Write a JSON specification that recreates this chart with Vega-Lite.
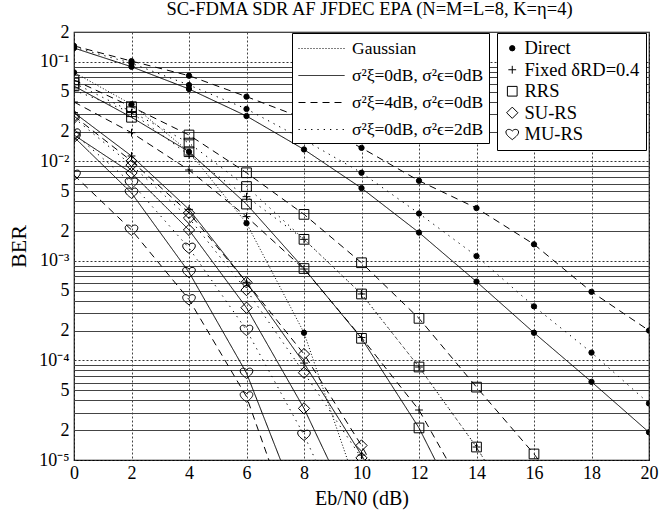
{
  "$schema": "https://vega.github.io/schema/vega-lite/v6.json",
  "width": 575,
  "height": 428,
  "autosize": {"type": "none"},
  "padding": {"left": 74, "top": 32, "right": 10, "bottom": 53},
  "config": {
    "font": "Liberation Serif",
    "view": {"stroke": "black", "strokeWidth": 1.2},
    "title": {"font": "Liberation Serif", "fontSize": 18.5, "fontWeight": "normal", "color": "black"}
  },
  "title": {"text": "SC-FDMA SDR AF JFDEC EPA (N=M=L=8, K=η=4)", "offset": 5, "dx": 8},
  "data": {"values": [
    {"scheme":"Direct","noise":"G","x":0,"ber":0.0786},{"scheme":"Direct","noise":"G","x":2,"ber":0.0375},{"scheme":"Direct","noise":"G","x":4,"ber":0.0125},{"scheme":"Direct","noise":"G","x":6,"ber":0.0024},{"scheme":"Direct","noise":"G","x":8,"ber":0.00019},{"scheme":"Direct","noise":"G","x":10,"ber":0.0000039},
    {"scheme":"Direct","noise":"A","x":0,"ber":0.138},{"scheme":"Direct","noise":"A","x":2,"ber":0.0895},{"scheme":"Direct","noise":"A","x":4,"ber":0.0535},{"scheme":"Direct","noise":"A","x":6,"ber":0.0286},{"scheme":"Direct","noise":"A","x":8,"ber":0.0132},{"scheme":"Direct","noise":"A","x":10,"ber":0.0054},{"scheme":"Direct","noise":"A","x":12,"ber":0.00193},{"scheme":"Direct","noise":"A","x":14,"ber":0.00062},{"scheme":"Direct","noise":"A","x":16,"ber":0.00019},{"scheme":"Direct","noise":"A","x":18,"ber":0.000061},{"scheme":"Direct","noise":"A","x":20,"ber":0.000019},
    {"scheme":"Direct","noise":"B","x":0,"ber":0.145},{"scheme":"Direct","noise":"B","x":2,"ber":0.102},{"scheme":"Direct","noise":"B","x":4,"ber":0.0728},{"scheme":"Direct","noise":"B","x":6,"ber":0.0448},{"scheme":"Direct","noise":"B","x":8,"ber":0.027},{"scheme":"Direct","noise":"B","x":10,"ber":0.0137},{"scheme":"Direct","noise":"B","x":12,"ber":0.0064},{"scheme":"Direct","noise":"B","x":14,"ber":0.0034},{"scheme":"Direct","noise":"B","x":16,"ber":0.00147},{"scheme":"Direct","noise":"B","x":18,"ber":0.00049},{"scheme":"Direct","noise":"B","x":20,"ber":0.0002},
    {"scheme":"Direct","noise":"C","x":0,"ber":0.141},{"scheme":"Direct","noise":"C","x":2,"ber":0.097},{"scheme":"Direct","noise":"C","x":4,"ber":0.0586},{"scheme":"Direct","noise":"C","x":6,"ber":0.0337},{"scheme":"Direct","noise":"C","x":8,"ber":0.0165},{"scheme":"Direct","noise":"C","x":10,"ber":0.0077},{"scheme":"Direct","noise":"C","x":12,"ber":0.003},{"scheme":"Direct","noise":"C","x":14,"ber":0.00112},{"scheme":"Direct","noise":"C","x":16,"ber":0.00035},{"scheme":"Direct","noise":"C","x":18,"ber":0.00012},{"scheme":"Direct","noise":"C","x":20,"ber":0.000037},
    {"scheme":"Fixed","noise":"A","x":0,"ber":0.031},{"scheme":"Fixed","noise":"A","x":2,"ber":0.01135},{"scheme":"Fixed","noise":"A","x":4,"ber":0.0033},{"scheme":"Fixed","noise":"A","x":6,"ber":0.00061},{"scheme":"Fixed","noise":"A","x":8,"ber":0.0000942},{"scheme":"Fixed","noise":"A","x":10,"ber":0.0000112},{"scheme":"Fixed","noise":"A","x":12,"ber":0.0000011},
    {"scheme":"Fixed","noise":"B","x":0,"ber":0.0396},{"scheme":"Fixed","noise":"B","x":2,"ber":0.01946},{"scheme":"Fixed","noise":"B","x":4,"ber":0.0082},{"scheme":"Fixed","noise":"B","x":6,"ber":0.00279},{"scheme":"Fixed","noise":"B","x":8,"ber":0.00083},{"scheme":"Fixed","noise":"B","x":10,"ber":0.00017},{"scheme":"Fixed","noise":"B","x":12,"ber":0.0000318},{"scheme":"Fixed","noise":"B","x":14,"ber":0.000003},
    {"scheme":"Fixed","noise":"C","x":0,"ber":0.052},{"scheme":"Fixed","noise":"C","x":2,"ber":0.031},{"scheme":"Fixed","noise":"C","x":4,"ber":0.0116},{"scheme":"Fixed","noise":"C","x":6,"ber":0.00443},{"scheme":"Fixed","noise":"C","x":8,"ber":0.00165},{"scheme":"Fixed","noise":"C","x":10,"ber":0.000466},{"scheme":"Fixed","noise":"C","x":12,"ber":0.000086},{"scheme":"Fixed","noise":"C","x":14,"ber":0.0000135},{"scheme":"Fixed","noise":"C","x":16,"ber":0.0000015},
    {"scheme":"RRS","noise":"B","x":0,"ber":0.0659},{"scheme":"RRS","noise":"B","x":2,"ber":0.0355},{"scheme":"RRS","noise":"B","x":4,"ber":0.01845},{"scheme":"RRS","noise":"B","x":6,"ber":0.0077},{"scheme":"RRS","noise":"B","x":8,"ber":0.00294},{"scheme":"RRS","noise":"B","x":10,"ber":0.00096},{"scheme":"RRS","noise":"B","x":12,"ber":0.000265},{"scheme":"RRS","noise":"B","x":14,"ber":0.000054},{"scheme":"RRS","noise":"B","x":16,"ber":0.0000115},{"scheme":"RRS","noise":"B","x":18,"ber":0.000002},
    {"scheme":"RRS","noise":"C","x":0,"ber":0.0614},{"scheme":"RRS","noise":"C","x":2,"ber":0.0316},{"scheme":"RRS","noise":"C","x":4,"ber":0.0153},{"scheme":"RRS","noise":"C","x":6,"ber":0.0056},{"scheme":"RRS","noise":"C","x":8,"ber":0.00165},{"scheme":"RRS","noise":"C","x":10,"ber":0.000466},{"scheme":"RRS","noise":"C","x":12,"ber":0.000086},{"scheme":"RRS","noise":"C","x":14,"ber":0.0000135},{"scheme":"RRS","noise":"C","x":16,"ber":0.0000015},
    {"scheme":"RRS","noise":"A","x":0,"ber":0.0573},{"scheme":"RRS","noise":"A","x":2,"ber":0.0278},{"scheme":"RRS","noise":"A","x":4,"ber":0.01253},{"scheme":"RRS","noise":"A","x":6,"ber":0.00373},{"scheme":"RRS","noise":"A","x":8,"ber":0.00084},{"scheme":"RRS","noise":"A","x":10,"ber":0.000167},{"scheme":"RRS","noise":"A","x":12,"ber":0.000021},{"scheme":"RRS","noise":"A","x":14,"ber":0.0000015},
    {"scheme":"SU-RS","noise":"A","x":0,"ber":0.01845},{"scheme":"SU-RS","noise":"A","x":2,"ber":0.00766},{"scheme":"SU-RS","noise":"A","x":4,"ber":0.00205},{"scheme":"SU-RS","noise":"A","x":6,"ber":0.000339},{"scheme":"SU-RS","noise":"A","x":8,"ber":0.000033},{"scheme":"SU-RS","noise":"A","x":10,"ber":0.000002},
    {"scheme":"SU-RS","noise":"B","x":0,"ber":0.0286},{"scheme":"SU-RS","noise":"B","x":2,"ber":0.0101},{"scheme":"SU-RS","noise":"B","x":4,"ber":0.00304},{"scheme":"SU-RS","noise":"B","x":6,"ber":0.00061},{"scheme":"SU-RS","noise":"B","x":8,"ber":0.000116},{"scheme":"SU-RS","noise":"B","x":10,"ber":0.000014},{"scheme":"SU-RS","noise":"B","x":12,"ber":0.0000012},
    {"scheme":"SU-RS","noise":"C","x":0,"ber":0.0274},{"scheme":"SU-RS","noise":"C","x":2,"ber":0.0092},{"scheme":"SU-RS","noise":"C","x":4,"ber":0.0027},{"scheme":"SU-RS","noise":"C","x":6,"ber":0.00051},{"scheme":"SU-RS","noise":"C","x":8,"ber":0.0000753},{"scheme":"SU-RS","noise":"C","x":10,"ber":0.0000105},{"scheme":"SU-RS","noise":"C","x":12,"ber":0.000001},
    {"scheme":"MU-RS","noise":"A","x":0,"ber":0.0176},{"scheme":"MU-RS","noise":"A","x":2,"ber":0.00482},{"scheme":"MU-RS","noise":"A","x":4,"ber":0.00077},{"scheme":"MU-RS","noise":"A","x":6,"ber":0.0000748},{"scheme":"MU-RS","noise":"A","x":8,"ber":0.0000025},
    {"scheme":"MU-RS","noise":"B","x":0,"ber":0.00731},{"scheme":"MU-RS","noise":"B","x":2,"ber":0.00205},{"scheme":"MU-RS","noise":"B","x":4,"ber":0.00041},{"scheme":"MU-RS","noise":"B","x":6,"ber":0.0000433},{"scheme":"MU-RS","noise":"B","x":8,"ber":0.000001},
    {"scheme":"MU-RS","noise":"C","x":0,"ber":0.019},{"scheme":"MU-RS","noise":"C","x":2,"ber":0.00607},{"scheme":"MU-RS","noise":"C","x":4,"ber":0.00135},{"scheme":"MU-RS","noise":"C","x":6,"ber":0.000202},{"scheme":"MU-RS","noise":"C","x":8,"ber":0.0000178},{"scheme":"MU-RS","noise":"C","x":10,"ber":0.000001}
  ]},
  "encoding": {
    "x": {"field": "x", "type": "quantitative",
      "scale": {"domain": [0, 20], "nice": false},
      "axis": {"values": [0,2,4,6,8,10,12,14,16,18,20], "title": "Eb/N0 (dB)",
        "titleFontSize": 20, "titleFontWeight": "normal", "titleColor": "black", "titlePadding": 6,
        "labelFontSize": 18, "labelColor": "black", "labelPadding": 4, "labelFlush": false,
        "tickSize": 0, "domain": false, "grid": true, "gridDash": [2, 2], "gridColor": "#444", "gridWidth": 1}},
    "y": {"field": "ber", "type": "quantitative",
      "scale": {"type": "log", "domain": [0.00001, 0.2], "nice": false},
      "axis": {"values": [0.00001,0.00002,0.00003,0.00004,0.00005,0.00006,0.00007,0.00008,0.00009,0.0001,0.0002,0.0003,0.0004,0.0005,0.0006,0.0007,0.0008,0.0009,0.001,0.002,0.003,0.004,0.005,0.006,0.007,0.008,0.009,0.01,0.02,0.03,0.04,0.05,0.06,0.07,0.08,0.09,0.1,0.2],
        "format": ".0e",
        "labelExpr": "slice(datum.label,0,1)=='1' ? '10' + (slice(datum.label,-1)=='1' ? '⁻¹' : slice(datum.label,-1)=='2' ? '⁻²' : slice(datum.label,-1)=='3' ? '⁻³' : slice(datum.label,-1)=='4' ? '⁻⁴' : '⁻⁵') : ((slice(datum.label,0,1)=='2' || slice(datum.label,0,1)=='5') ? slice(datum.label,0,1) : '')",
        "title": "BER", "titleFontSize": 22, "titleFontWeight": "normal", "titleColor": "black", "titlePadding": 8,
        "labelFontSize": 18, "labelColor": "black", "labelPadding": 5, "labelOverlap": false, "labelFlush": false,
        "tickSize": 0, "domain": false, "grid": true,
        "gridDash": {"condition": {"test": "abs(log(datum.value)/LN10 - round(log(datum.value)/LN10)) < 0.001", "value": [2, 2]}, "value": []},
        "gridColor": {"condition": {"test": "abs(log(datum.value)/LN10 - round(log(datum.value)/LN10)) < 0.001", "value": "#333"}, "value": "#444"},
        "gridWidth": 1}}
  },
  "layer": [
    {"mark": {"type": "line", "clip": true, "color": "black", "strokeWidth": 1},
     "encoding": {
       "detail": [{"field": "scheme"}, {"field": "noise"}],
       "strokeDash": {"field": "noise", "type": "nominal",
         "scale": {"domain": ["G", "A", "B", "C"], "range": [[1, 2], [1, 0], [7, 5], [1.3, 5]]},
         "legend": {"title": null, "orient": "none", "legendX": 218, "legendY": 1, "direction": "vertical",
           "labelExpr": "datum.label=='G' ? 'Gaussian' : datum.label=='A' ? 'σ²ξ=0dB, σ²ϵ=0dB' : datum.label=='B' ? 'σ²ξ=4dB, σ²ϵ=0dB' : 'σ²ξ=0dB, σ²ϵ=2dB'",
           "labelFont": "Liberation Serif", "labelFontSize": 17.5, "labelColor": "black", "labelLimit": 300, "labelOffset": 20,
           "symbolType": "M-2.3,0L2.3,0", "symbolSize": 400, "symbolOffset": 14, "symbolStrokeColor": "black", "symbolStrokeWidth": 1,
           "strokeColor": "black", "fillColor": "white", "padding": 5, "rowPadding": 8}}
     }},
    {"mark": {"type": "point", "clip": true, "filled": true, "strokeWidth": 1, "opacity": 1},
     "encoding": {
       "shape": {"field": "scheme", "type": "nominal",
         "scale": {"domain": ["Direct", "Fixed", "RRS", "SU-RS", "MU-RS"],
           "range": ["circle", "M-1,0L1,0M0,-1L0,1", "square", "diamond", "M0,0.85C-0.35,0.55,-1,0.15,-1,-0.35C-1,-0.8,-0.35,-0.95,0,-0.5C0.35,-0.95,1,-0.8,1,-0.35C1,0.15,0.35,0.55,0,0.85Z"]},
         "legend": {"title": null, "orient": "none", "legendX": 423, "legendY": 1, "direction": "vertical",
           "labelExpr": "datum.label=='Fixed' ? 'Fixed δRD=0.4' : datum.label",
           "labelFont": "Liberation Serif", "labelFontSize": 18.5, "labelColor": "black", "labelOffset": 3,
           "symbolStrokeWidth": 1,
           "strokeColor": "black", "fillColor": "white", "padding": 6, "rowPadding": 2.5}},
       "fill": {"field": "scheme", "type": "nominal",
         "scale": {"domain": ["Direct", "Fixed", "RRS", "SU-RS", "MU-RS"], "range": ["black", "transparent", "transparent", "transparent", "transparent"]},
         "legend": {"title": null, "orient": "none", "legendX": 423, "legendY": 1, "direction": "vertical",
           "labelExpr": "datum.label=='Fixed' ? 'Fixed δRD=0.4' : datum.label",
           "labelFont": "Liberation Serif", "labelFontSize": 18.5, "labelColor": "black", "labelOffset": 3,
           "symbolStrokeWidth": 1,
           "strokeColor": "black", "fillColor": "white", "padding": 6, "rowPadding": 2.5}},
       "stroke": {"field": "scheme", "type": "nominal",
         "scale": {"domain": ["Direct", "Fixed", "RRS", "SU-RS", "MU-RS"], "range": ["black", "black", "black", "black", "black"]},
         "legend": {"title": null, "orient": "none", "legendX": 423, "legendY": 1, "direction": "vertical",
           "labelExpr": "datum.label=='Fixed' ? 'Fixed δRD=0.4' : datum.label",
           "labelFont": "Liberation Serif", "labelFontSize": 18.5, "labelColor": "black", "labelOffset": 3,
           "symbolStrokeWidth": 1,
           "strokeColor": "black", "fillColor": "white", "padding": 6, "rowPadding": 2.5}},
       "size": {"field": "scheme", "type": "nominal",
         "scale": {"domain": ["Direct", "Fixed", "RRS", "SU-RS", "MU-RS"], "range": [28, 160, 170, 160, 150]},
         "legend": {"title": null, "orient": "none", "legendX": 423, "legendY": 1, "direction": "vertical",
           "labelExpr": "datum.label=='Fixed' ? 'Fixed δRD=0.4' : datum.label",
           "labelFont": "Liberation Serif", "labelFontSize": 18.5, "labelColor": "black", "labelOffset": 3,
           "symbolStrokeWidth": 1,
           "strokeColor": "black", "fillColor": "white", "padding": 6, "rowPadding": 2.5}}
     }}
  ]
}
